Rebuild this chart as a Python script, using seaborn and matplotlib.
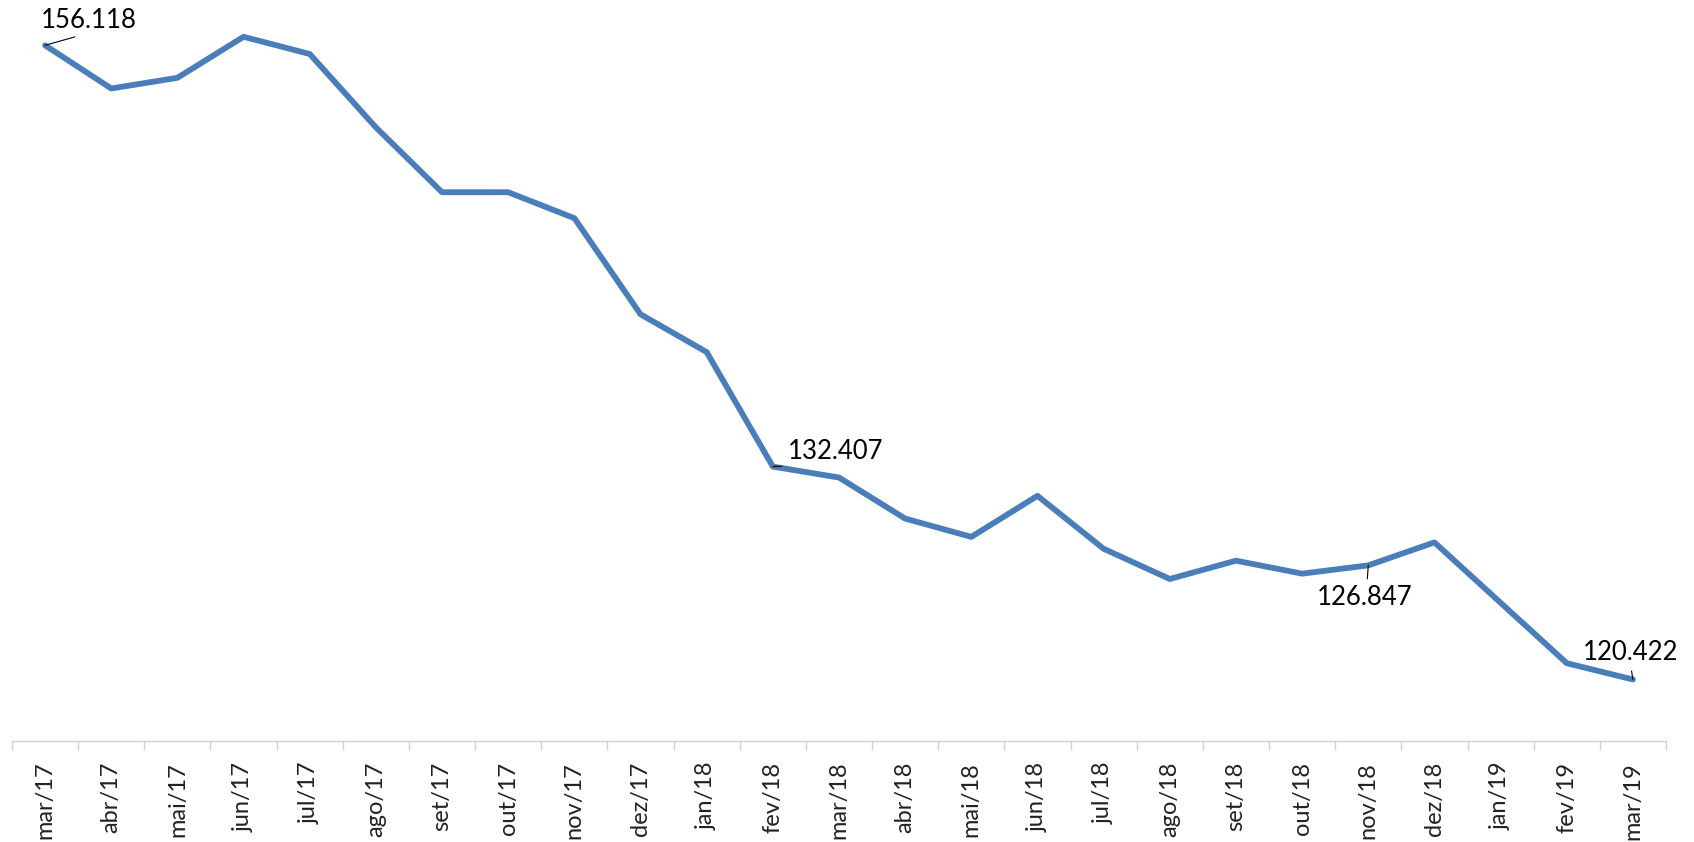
import matplotlib
matplotlib.use("Agg")
import matplotlib.pyplot as plt
import seaborn as sns
import pandas as pd
import numpy as np

meses = ["mar/17", "abr/17", "mai/17", "jun/17", "jul/17", "ago/17", "set/17",
         "out/17", "nov/17", "dez/17", "jan/18", "fev/18", "mar/18", "abr/18",
         "mai/18", "jun/18", "jul/18", "ago/18", "set/18", "out/18", "nov/18",
         "dez/18", "jan/19", "fev/19", "mar/19"]
valores = [156.118, 153.69, 154.29, 156.60, 155.63, 151.50, 147.85,
           147.85, 146.39, 140.98, 138.85, 132.407, 131.79, 129.48,
           128.45, 130.76, 127.78, 126.08, 127.11, 126.38, 126.847,
           128.14, 124.74, 121.34, 120.422]

# rótulos mostrados: indice -> deslocamento do texto (px)
rotulos = {0: (44, 25, "center"), 11: (15, 15, "left"),
           20: (-51, -32, "left"), 24: (-50, 27, "left")}

df = pd.DataFrame({"pos": np.arange(len(meses)), "valor": valores})

sns.set_style("white")
plt.rcParams["font.family"] = ["Lato", "DejaVu Sans"]

fig = plt.figure(figsize=(16.94, 8.42), dpi=100)
ax = fig.add_axes([12 / 1694, 101 / 842, 1654 / 1694, 741 / 842])

sns.lineplot(data=df, x="pos", y="valor", ax=ax, color="#4A7EBB", lw=4.2)

for i, (dx, dy, ha) in rotulos.items():
    ax.annotate(f"{valores[i]:.3f}", xy=(i, valores[i]), xytext=(dx, dy),
                textcoords="offset pixels", ha=ha, va="center", fontsize=18.5,
                color="black",
                arrowprops=dict(arrowstyle="-", lw=0.8, color="black",
                                shrinkA=2, shrinkB=0, relpos=(0.5, 0)))

ax.set_xlim(-0.5, len(meses) - 0.5)
ax.set_ylim(116.96, 158.67)
ax.set_xticks(df["pos"])
ax.set_xticklabels(meses, rotation=90, fontsize=17, color="#222222")
ax.set_xticks(np.arange(len(meses) + 1) - 0.5, minor=True)
ax.tick_params(axis="x", which="major", length=0, pad=15)
ax.tick_params(axis="x", which="minor", length=6.5, color="#D0D0D0", width=1,
               direction="out", bottom=True)
ax.set_yticks([])
ax.set_xlabel("")
ax.set_ylabel("")
for s in ["top", "left", "right"]:
    ax.spines[s].set_visible(False)
ax.spines["bottom"].set_color("#D0D0D0")
ax.spines["bottom"].set_linewidth(1)

fig.savefig("out.png", dpi=100)
